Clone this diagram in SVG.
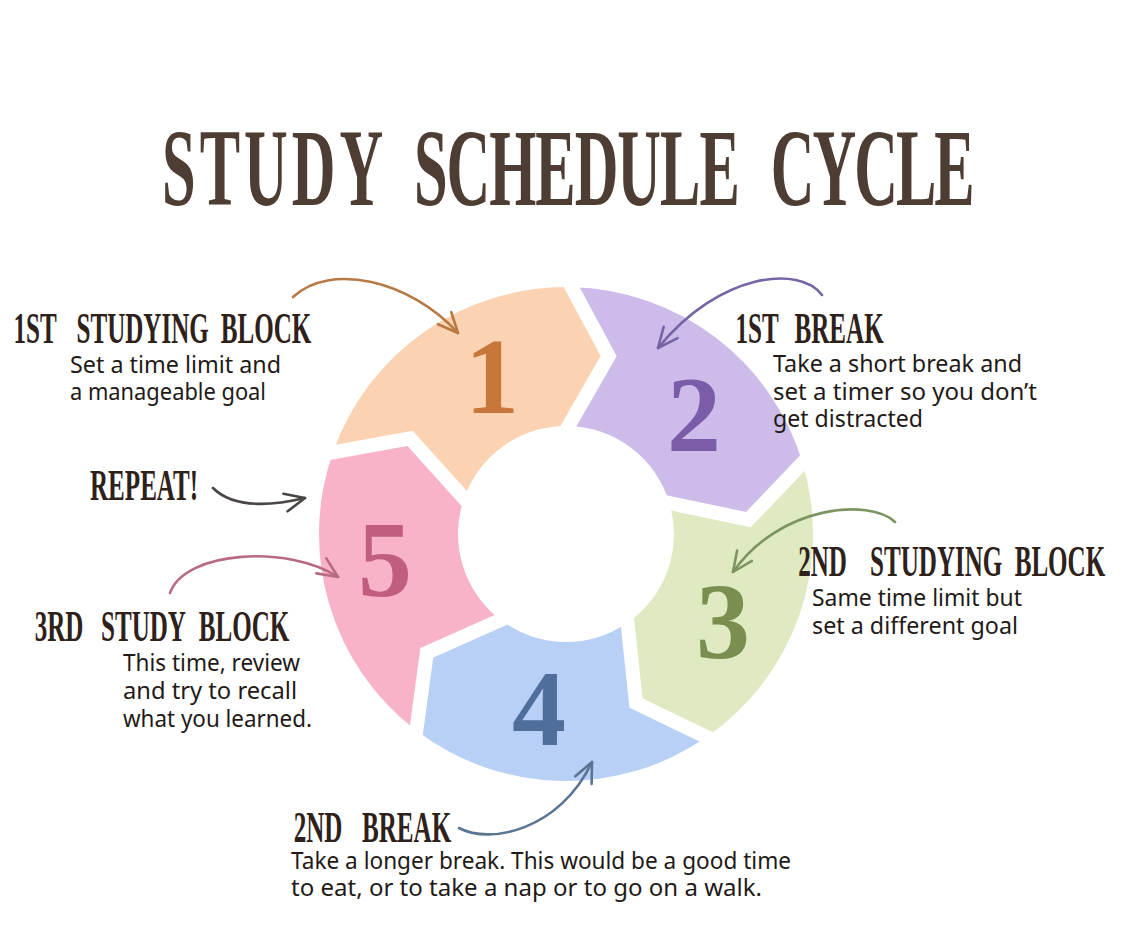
<svg xmlns="http://www.w3.org/2000/svg" width="1133" height="944" viewBox="0 0 1133 944">
<defs>
<style>
.title{font-family:"Liberation Serif",serif;font-weight:bold;font-size:110px;fill:#4e3d33}
.head{font-family:"Liberation Serif",serif;font-weight:bold;font-size:44px;fill:#2e211a}
.body{font-family:"Noto Sans",sans-serif;font-size:23px;fill:#1f1a17}
.num{font-family:"Liberation Serif",serif;font-weight:bold;font-size:108px;text-anchor:middle}
.sep{fill:none;stroke:#fff;stroke-width:14;stroke-linejoin:miter;stroke-linecap:square}
.arr{fill:none;stroke-width:2.6;stroke-linecap:round}
.ah{fill:none;stroke-width:2.6;stroke-linecap:round;stroke-linejoin:round}
</style>
<marker id="mo" viewBox="-24 -12 26 24" refX="0" refY="0" markerWidth="26" markerHeight="24" markerUnits="userSpaceOnUse" orient="auto"><path class="ah" d="M-20,-9 L0,0 L-20,9" stroke="#b87a45"/></marker>
<marker id="mp" viewBox="-24 -12 26 24" refX="0" refY="0" markerWidth="26" markerHeight="24" markerUnits="userSpaceOnUse" orient="auto"><path class="ah" d="M-20,-9 L0,0 L-20,9" stroke="#7565a5"/></marker>
<marker id="mg" viewBox="-24 -12 26 24" refX="0" refY="0" markerWidth="26" markerHeight="24" markerUnits="userSpaceOnUse" orient="auto"><path class="ah" d="M-20,-9 L0,0 L-20,9" stroke="#7d9460"/></marker>
<marker id="mb" viewBox="-24 -12 26 24" refX="0" refY="0" markerWidth="26" markerHeight="24" markerUnits="userSpaceOnUse" orient="auto"><path class="ah" d="M-20,-9 L0,0 L-20,9" stroke="#5a7593"/></marker>
<marker id="mk" viewBox="-24 -12 26 24" refX="0" refY="0" markerWidth="26" markerHeight="24" markerUnits="userSpaceOnUse" orient="auto"><path class="ah" d="M-20,-9 L0,0 L-20,9" stroke="#b86a82"/></marker>
<marker id="md" viewBox="-24 -12 26 24" refX="0" refY="0" markerWidth="26" markerHeight="24" markerUnits="userSpaceOnUse" orient="auto"><path class="ah" d="M-20,-9 L0,0 L-20,9" stroke="#4a4644"/></marker>
</defs>
<rect width="1133" height="944" fill="#ffffff"/>
<text class="title" transform="translate(162,205) scale(0.55,1)"><tspan x="0" letter-spacing="7.3">STUDY</tspan> <tspan x="458" letter-spacing="-1.8">SCHEDULE</tspan> <tspan x="1107" letter-spacing="-3.6">CYCLE</tspan></text>

<g id="ring">
<g id="seg1">
<path d="M332.9,452.4 A247,247 0 0 1 571.6,287.1 L608.7,356.1 L568.5,426.0 A108,108 0 0 0 464.1,498.3 L410.0,438.4 Z" fill="#fcd3b2"/>
</g>
<g id="seg2">
<path d="M571.6,287.1 A247,247 0 0 1 802.6,463.0 L748.4,519.6 L669.4,503.0 A108,108 0 0 0 568.5,426.0 L608.7,356.1 Z" fill="#cdbcea"/>
</g>
<g id="seg3">
<path d="M802.6,463.0 A247,247 0 0 1 706.6,737.1 L636.0,703.1 L627.5,622.8 A108,108 0 0 0 669.4,503.0 L748.4,519.6 Z" fill="#dfeac2"/>
</g>
<g id="seg4">
<path d="M706.6,737.1 A247,247 0 0 1 416.3,730.5 L426.8,652.9 L500.6,619.9 A108,108 0 0 0 627.5,622.8 L636.0,703.1 Z" fill="#b8d0f6"/>
</g>
<g id="seg5">
<path d="M416.3,730.5 A247,247 0 0 1 332.9,452.4 L410.0,438.4 L464.1,498.3 A108,108 0 0 0 500.6,619.9 L426.8,652.9 Z" fill="#f9b3c8"/>
</g>
<g id="separators">
<polyline class="sep" points="571.6,287.1 608.7,356.1 568.5,426.0"/>
<polyline class="sep" points="802.6,463.0 748.4,519.6 669.4,503.0"/>
<polyline class="sep" points="706.6,737.1 636.0,703.1 627.5,622.8"/>
<polyline class="sep" points="416.3,730.5 426.8,652.9 500.6,619.9"/>
<polyline class="sep" points="332.9,452.4 410.0,438.4 464.1,498.3"/>
</g>
<g id="numbers">
<text class="num" x="492" y="413" fill="#c8773a">1</text>
<text class="num" x="694" y="451" fill="#7a5ca8">2</text>
<text class="num" x="723" y="658" fill="#7a8f4f">3</text>
<text class="num" x="539" y="745" fill="#4f6e99">4</text>
<text class="num" x="385" y="596" fill="#c15e80">5</text>
</g>
</g>

<g id="label1">
<text class="head" transform="translate(13.5,343) scale(0.57,1)"><tspan x="0">1ST</tspan> <tspan x="110.5">STUDYING</tspan> <tspan x="363.5">BLOCK</tspan></text>
<text class="body" x="70" y="373" textLength="211" lengthAdjust="spacingAndGlyphs">Set a time limit and</text>
<text class="body" x="70" y="400" textLength="196" lengthAdjust="spacingAndGlyphs">a manageable goal</text>
</g>
<g id="label2">
<text class="head" transform="translate(735.5,343) scale(0.57,1)"><tspan x="0">1ST</tspan> <tspan x="103.5">BREAK</tspan></text>
<text class="body" x="773" y="372" textLength="249" lengthAdjust="spacingAndGlyphs">Take a short break and</text>
<text class="body" x="773" y="400" textLength="264" lengthAdjust="spacingAndGlyphs">set a timer so you don’t</text>
<text class="body" x="773" y="427" textLength="150" lengthAdjust="spacingAndGlyphs">get distracted</text>
</g>
<g id="label3">
<text class="head" transform="translate(798.2,576) scale(0.57,1)"><tspan x="0">2ND</tspan> <tspan x="126">STUDYING</tspan> <tspan x="379.8">BLOCK</tspan></text>
<text class="body" x="812" y="606" textLength="210" lengthAdjust="spacingAndGlyphs">Same time limit but</text>
<text class="body" x="812" y="634" textLength="206" lengthAdjust="spacingAndGlyphs">set a different goal</text>
</g>
<g id="label4">
<text class="head" transform="translate(293.7,842) scale(0.57,1)"><tspan x="0">2ND</tspan> <tspan x="119.8">BREAK</tspan></text>
<text class="body" x="291" y="869" textLength="500" lengthAdjust="spacingAndGlyphs">Take a longer break. This would be a good time</text>
<text class="body" x="291" y="896" textLength="471" lengthAdjust="spacingAndGlyphs">to eat, or to take a nap or to go on a walk.</text>
</g>
<g id="label5">
<text class="head" transform="translate(34.7,641) scale(0.57,1)"><tspan x="0">3RD</tspan> <tspan x="116.3">STUDY</tspan> <tspan x="287.7">BLOCK</tspan></text>
<text class="body" x="123" y="671" textLength="177" lengthAdjust="spacingAndGlyphs">This time, review</text>
<text class="body" x="123" y="699" textLength="174" lengthAdjust="spacingAndGlyphs">and try to recall</text>
<text class="body" x="123" y="727" textLength="189" lengthAdjust="spacingAndGlyphs">what you learned.</text>
</g>
<g id="repeat">
<text class="head" transform="translate(90,500) scale(0.57,1)">REPEAT!</text>
</g>

<g id="connectors">
<path class="arr" d="M293,297 C330,262 410,280 458,333" stroke="#b87a45" marker-end="url(#mo)"/>
<path class="arr" d="M822,295 C800,265 720,272 658,348" stroke="#7565a5" marker-end="url(#mp)"/>
<path class="arr" d="M895,522 C870,498 780,505 733,572" stroke="#7d9460" marker-end="url(#mg)"/>
<path class="arr" d="M459,828 C490,845 560,830 592,762" stroke="#5a7593" marker-end="url(#mb)"/>
<path class="arr" d="M170,593 C185,550 290,545 338,577" stroke="#b86a82" marker-end="url(#mk)"/>
<path class="arr" d="M213,488 C235,510 275,505 305,498" stroke="#4a4644" marker-end="url(#md)"/>
</g>
</svg>
